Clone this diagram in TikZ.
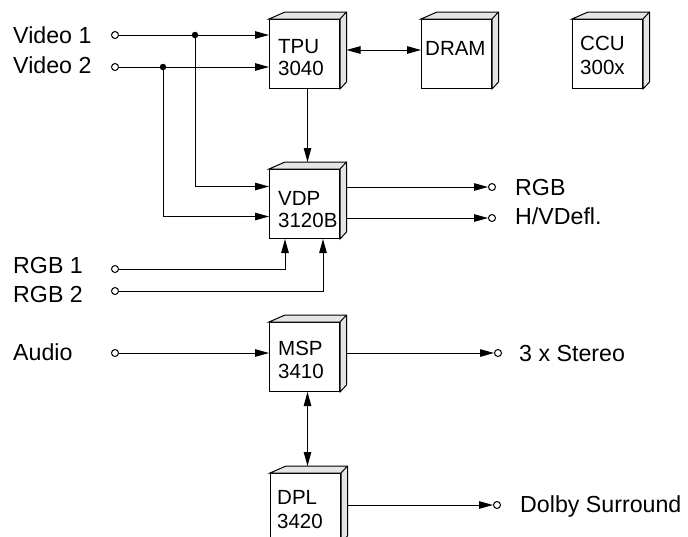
\documentclass[tikz,border=0pt]{standalone}
\usepackage{fontspec}
\setmainfont{Liberation Sans}
\usetikzlibrary{arrows.meta,calc}
\tikzset{
  wire/.style={line width=1pt},
  arr/.style={wire,-{Triangle[length=14pt,width=7.5pt]}},
  darr/.style={wire,{Triangle[length=14pt,width=7.5pt]}-{Triangle[length=14pt,width=7.5pt]}},
  chip/.style={draw,line width=1pt,fill=white,minimum width=70,minimum height=69,inner sep=0,anchor=north west},
  face/.style={draw,line width=1pt,fill=black!10},
  port/.style={circle,draw,line width=1pt,fill=white,inner sep=0,minimum size=7pt},
  jdot/.style={circle,fill=black,inner sep=0,minimum size=6.5pt},
  lbl/.style={inner sep=0,anchor=base west,font=\fontsize{23.2}{26}\selectfont},
  ctxt/.style={inner sep=0,anchor=base west,font=\fontsize{20.5}{24}\selectfont},
}
\newcommand\chipfaces[1]{%
  \filldraw[face] (#1.north west) -- ++(16,-7) -- ($(#1.north east)+(6.5,-7)$) -- ($(#1.south east)+(6.5,-7)$) -- (#1.south east) -- (#1.north east) -- cycle;
  \draw[wire] (#1.north east) -- ++(6.5,-7);}
\begin{document}
\begin{tikzpicture}[x=1pt,y=-1pt]
\useasboundingbox (0,0) rectangle (688,536);
\clip (0,0) rectangle (688,536);
% boxes
\node[chip] (tpu) at (269,19) {};
\node[chip] (dram) at (421,19) {};
\node[chip] (ccu) at (572,19) {};
\node[chip] (vdp) at (269,169) {};
\node[chip] (msp) at (269,322) {};
\node[chip] (dpl) at (270,473) {};
\chipfaces{tpu}\chipfaces{dram}\chipfaces{ccu}\chipfaces{vdp}\chipfaces{msp}\chipfaces{dpl}
% box texts
\node[ctxt] (tpua) at (278,53) {TPU};
\node[ctxt] (tpub) at (278,75) {3040};
\node[ctxt] (drama) at (425,55) {DRAM};
\node[ctxt] (ccua) at (580,50) {CCU};
\node[ctxt] (ccub) at (580,74) {300x};
\node[ctxt] (vdpa) at (278,205) {VDP};
\node[ctxt] (vdpb) at (278,227) {3120B};
\node[ctxt] (mspa) at (278,355) {MSP};
\node[ctxt] (mspb) at (278,378) {3410};
\node[ctxt] (dpla) at (277,504) {DPL};
\node[ctxt] (dplb) at (277,528) {3420};
% labels
\node[lbl] (lv1) at (13,43) {Video 1};
\node[lbl] (lv2) at (13,73) {Video 2};
\node[lbl] (lr1) at (13,273) {RGB 1};
\node[lbl] (lr2) at (13,302) {RGB 2};
\node[lbl] (lau) at (13,360) {Audio};
\node[lbl] (lrgb) at (515,195) {RGB};
\node[lbl] (lhv) at (515,224) {H/VDefl.};
\node[lbl] (lst) at (519,361) {3 x Stereo};
\node[lbl] (ldo) at (520,512) {Dolby Surround};
% ports
\node[port] (v1in) at (115,35) {};
\node[port] (v2in) at (115,67) {};
\node[port] (r1in) at (115,269) {};
\node[port] (r2in) at (115,291) {};
\node[port] (auin) at (115,353) {};
\node[port] (rgbout) at (492,187) {};
\node[port] (hvout) at (492,218) {};
\node[port] (stout) at (498,353) {};
\node[port] (doout) at (497,505) {};
% junctions
\node[jdot] (j1) at (195,35) {};
\node[jdot] (j2) at (163,67) {};
% connectors
\draw[arr] (v1in) -- (v1in -| tpu.west);
\draw[arr] (v2in) -- (v2in -| tpu.west);
\draw[arr] (j1) |- ($(vdp.north west)+(0,17.5)$);
\draw[arr] (j2) |- ($(vdp.north west)+(0,47.5)$);
\draw[arr] ($(tpu.south)+(3,0)$) -- ($(vdp.north)+(3,-7)$);
\draw[darr] ($(tpu.north east)+(6.5,31)$) -- ($(dram.north west)+(0,31)$);
\draw[arr] ($(vdp.north east)+(6.5,18)$) -- (rgbout.west);
\draw[arr] ($(vdp.north east)+(6.5,49)$) -- (hvout.west);
\draw[arr] (r1in) -| ($(vdp.south west)+(16,0)$);
\draw[arr] (r2in) -| ($(vdp.south west)+(54,0)$);
\draw[arr] (auin) -- (auin -| msp.west);
\draw[arr] ($(msp.north east)+(6.5,31)$) -- (stout.west);
\draw[darr] ($(msp.south)+(3,0)$) -- ($(dpl.north)+(2,-7)$);
\draw[arr] ($(dpl.north east)+(6.5,32)$) -- (doout.west);
\end{tikzpicture}
\end{document}
